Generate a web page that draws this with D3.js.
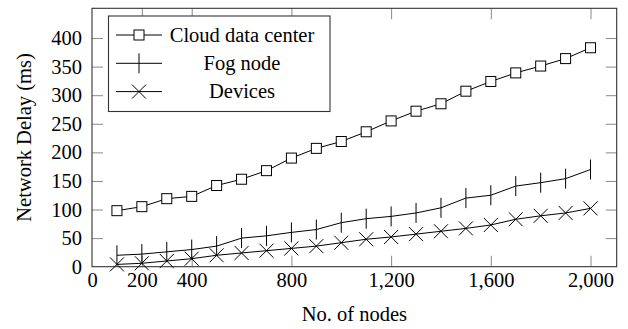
<!DOCTYPE html>
<html>
<head>
<meta charset="utf-8">
<script src="https://cdn.jsdelivr.net/npm/d3@7"></script>
<style>
  html, body { margin: 0; padding: 0; background: #fff; }
  svg { display: block; }
  svg text { font-family: "Liberation Serif", "DejaVu Serif", serif; }
</style>
</head>
<body>
<div id="chart"></div>
<script>
// Data
var nodes = [100, 200, 300, 400, 500, 600, 700, 800, 900, 1000,
  1100, 1200, 1300, 1400, 1500, 1600, 1700, 1800, 1900, 2000]
var cloudDelay = [98, 105, 119, 123, 142, 153, 168, 190, 207, 219,
  236, 255, 272, 285, 307, 324, 339, 351, 364, 383]
var fogDelay = [20, 22, 26, 30, 36, 50, 54, 60, 65, 77,
  84, 88, 94, 103, 120, 125, 141, 147, 154, 170]
var deviceDelay = [4, 6, 10, 14, 20, 24, 28, 32, 36, 42,
  48, 52, 57, 62, 67, 73, 83, 89, 94, 102]
var seriesNames = ['Cloud data center', 'Fog node', 'Devices']
var xTicks = [0, 200, 400, 800, 1200, 1600, 2000]
var yTicks = [0, 50, 100, 150, 200, 250, 300, 350, 400]

var W = 628
var H = 329
var margin = { left: 92, right: 11.3, top: 8.3, bottom: 62.3 }
var w = W - margin.left - margin.right
var h = H - margin.top - margin.bottom
var fontSize = 20.5
var serif = '"Liberation Serif", "DejaVu Serif", serif'
var tickLen = 11

var x = d3.scaleLinear().domain([0, 2105]).range([0, w])
var y = d3.scaleLinear().domain([0, 452]).range([h, 0])

var svg = d3.select('#chart').append('svg')
  .attr('width', W)
  .attr('height', H)
  .attr('font-family', serif)

var g = svg.append('g')
  .attr('transform', 'translate(' + margin.left + ',' + margin.top + ')')

// Axes, ticks pointing inwards on all four sides
function styleAxis (sel) {
  sel.attr('font-family', serif).attr('font-size', fontSize)
  sel.select('.domain').remove()
  sel.selectAll('.tick line').attr('stroke', '#8a8a8a').attr('stroke-width', 1)
  sel.selectAll('.tick text').attr('fill', '#000')
}

g.append('g')
  .attr('transform', 'translate(0,' + h + ')')
  .call(d3.axisBottom(x).tickValues(xTicks).tickFormat(d3.format(','))
    .tickSizeInner(-tickLen).tickSizeOuter(0).tickPadding(6))
  .call(styleAxis)

g.append('g')
  .call(d3.axisTop(x).tickValues(xTicks).tickFormat('')
    .tickSizeInner(-tickLen).tickSizeOuter(0))
  .call(styleAxis)

g.append('g')
  .call(d3.axisLeft(y).tickValues(yTicks).tickFormat(d3.format('d'))
    .tickSizeInner(-tickLen).tickSizeOuter(0).tickPadding(10))
  .call(styleAxis)

g.append('g')
  .attr('transform', 'translate(' + w + ',0)')
  .call(d3.axisRight(y).tickValues(yTicks).tickFormat('')
    .tickSizeInner(-tickLen).tickSizeOuter(0))
  .call(styleAxis)

// Drop the x tick at 0 since it sits on the left border
g.selectAll('.tick').filter(function (d) { return d === 0 }).select('line').remove()

// Frame
g.append('rect')
  .attr('width', w)
  .attr('height', h)
  .attr('fill', 'none')
  .attr('stroke', '#333')
  .attr('stroke-width', 1.1)

// Markers
function drawMark (sel, type) {
  if (type === 0) {
    sel.append('rect')
      .attr('x', -5).attr('y', -5).attr('width', 10).attr('height', 10)
      .attr('fill', '#fff').attr('stroke', '#000').attr('stroke-width', 1)
  } else if (type === 1) {
    sel.append('line')
      .attr('x1', 0).attr('x2', 0).attr('y1', -10).attr('y2', 10)
      .attr('stroke', '#000').attr('stroke-width', 1)
  } else {
    sel.append('path')
      .attr('d', 'M-7,-7L7,7M-7,7L7,-7')
      .attr('stroke', '#000').attr('stroke-width', 1)
  }
}

var allSeries = [cloudDelay, fogDelay, deviceDelay]
var line = d3.line()
  .x(function (d, i) { return x(nodes[i]) })
  .y(function (d) { return y(d) })

var plot = g.append('g')

allSeries.forEach(function (vals, k) {
  plot.append('path')
    .datum(vals)
    .attr('d', line)
    .attr('fill', 'none')
    .attr('stroke', '#000')
    .attr('stroke-width', 1)

  plot.selectAll('.m' + k)
    .data(vals)
    .enter().append('g')
    .attr('class', 'm' + k)
    .attr('transform', function (d, i) {
      return 'translate(' + x(nodes[i]) + ',' + y(d) + ')'
    })
    .each(function () { drawMark(d3.select(this), k) })
})

// Legend
var legend = svg.append('g').attr('transform', 'translate(108.5,16)')
legend.append('rect')
  .attr('width', 221.5)
  .attr('height', 95.5)
  .attr('fill', '#fff')
  .attr('stroke', '#333')
  .attr('stroke-width', 1.1)

seriesNames.forEach(function (name, k) {
  var row = legend.append('g')
    .attr('transform', 'translate(0,' + (19 + k * 28.3) + ')')
  row.append('line')
    .attr('x1', 7.5).attr('x2', 53.5)
    .attr('stroke', '#000').attr('stroke-width', 1)
  var mk = row.append('g').attr('transform', 'translate(30.5,0)')
  drawMark(mk, k)
  row.append('text')
    .attr('x', 133.5)
    .attr('dy', '0.33em')
    .attr('text-anchor', 'middle')
    .attr('font-family', serif)
    .attr('font-size', fontSize)
    .text(name)
})

// Axis titles
svg.append('text')
  .attr('x', margin.left + w / 2)
  .attr('y', 320.5)
  .attr('text-anchor', 'middle')
  .attr('font-family', serif)
  .attr('font-size', fontSize)
  .text('No. of nodes')

svg.append('text')
  .attr('transform', 'translate(31,' + (margin.top + h / 2) + ') rotate(-90)')
  .attr('text-anchor', 'middle')
  .attr('font-family', serif)
  .attr('font-size', fontSize)
  .text('Network Delay (ms)')
</script>
</body>
</html>
